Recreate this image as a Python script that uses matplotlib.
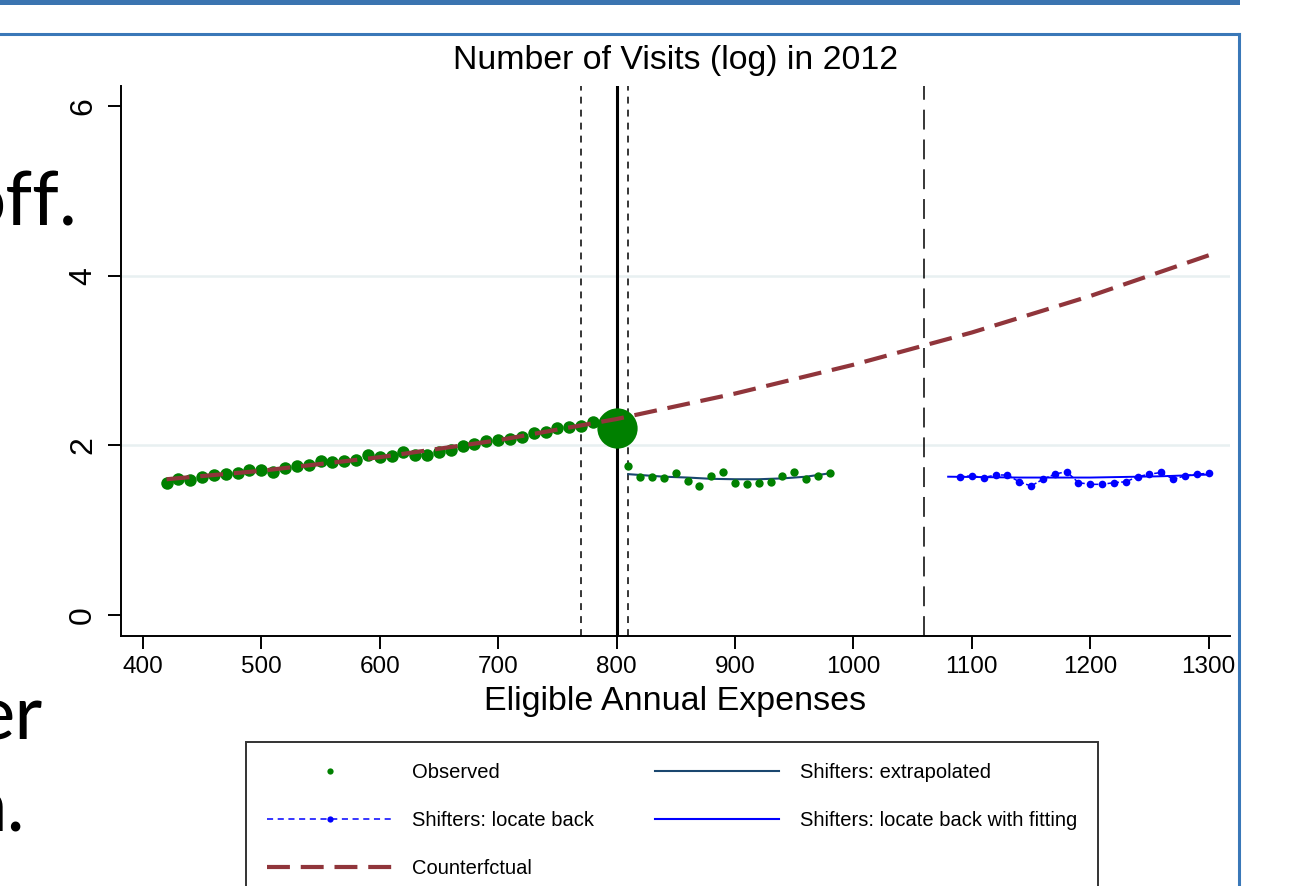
import numpy as np
import matplotlib
matplotlib.use("Agg")
from matplotlib import pyplot as plt
from matplotlib.lines import Line2D
from matplotlib.patches import Rectangle

plt.rcParams['font.family'] = ['Liberation Sans', 'DejaVu Sans']

# observed bins left of the threshold
obs_x = np.arange(420, 800, 10)
obs_y = [1.55, 1.60, 1.59, 1.63, 1.65, 1.66, 1.67, 1.71, 1.71, 1.68,
         1.73, 1.76, 1.77, 1.81, 1.80, 1.82, 1.83, 1.88, 1.86, 1.87,
         1.92, 1.88, 1.89, 1.92, 1.95, 1.99, 2.01, 2.05, 2.06, 2.07,
         2.10, 2.15, 2.16, 2.20, 2.22, 2.23, 2.27, 2.29]

# bunching point at the kink
kink_x = [800]
kink_y = [2.20]

# observed bins right of the threshold
right_x = np.arange(810, 990, 10)
right_y = [1.76, 1.63, 1.63, 1.62, 1.67, 1.58, 1.52, 1.64, 1.69, 1.56,
           1.54, 1.56, 1.57, 1.64, 1.68, 1.60, 1.64, 1.67]

# shifters: extrapolated
extra_x = [810, 820, 840, 860, 880, 900, 920, 940, 960, 980]
extra_y = [1.66, 1.65, 1.63, 1.62, 1.605, 1.60, 1.60, 1.61, 1.63, 1.67]

# shifters: locate back
back_x = np.arange(1090, 1310, 10)
back_y = [1.63, 1.64, 1.62, 1.65, 1.65, 1.57, 1.52, 1.60, 1.66, 1.69,
          1.56, 1.54, 1.54, 1.56, 1.57, 1.63, 1.66, 1.68, 1.60, 1.64,
          1.66, 1.67]

# shifters: locate back with fitting
fit_x = [1080, 1140, 1200, 1260, 1300]
fit_y = [1.63, 1.62, 1.62, 1.635, 1.655]

# counterfactual
cf_x = [420, 500, 600, 700, 800, 900, 1000, 1100, 1200, 1300]
cf_y = [1.60, 1.70, 1.86, 2.06, 2.31, 2.61, 2.95, 3.33, 3.76, 4.24]

GREEN = '#008000'
BLUE = '#0000ff'
NAVY = '#1a476f'
MAROON = '#90353b'
FRAME = '#3a78b8'

W, H = 1299, 886
fig = plt.figure(figsize=(W / 100, H / 100), dpi=100)
ax = fig.add_axes([121 / W, 1 - 636 / H, (1230 - 121) / W, (636 - 86) / H])

ax.set_xlim(381.5, 1318)
ax.set_ylim(-0.248, 6.236)

for yv in [2, 4]:
    ax.axhline(yv, color='#e8f0f1', lw=1.8, zorder=0)

ax.axvline(770, color='black', lw=1.1, ls=(0, (4.5, 4)), zorder=1)
ax.axvline(810, color='black', lw=1.1, ls=(0, (4.5, 4)), zorder=1)
ax.axvline(800, color='black', lw=2.2, zorder=1)
ax.axvline(1060, color='black', lw=1.1, ls=(0, (13, 6.5)), zorder=1)

ax.plot(obs_x, obs_y, 'o', color=GREEN, ms=9, mec='none', zorder=3)
ax.plot(kink_x, kink_y, 'o', color=GREEN, ms=29, mec='none', zorder=3)
ax.plot(right_x, right_y, 'o', color=GREEN, ms=6, mec='none', zorder=3)
ax.plot(extra_x, extra_y, '-', color=NAVY, lw=1.5, zorder=2)
ax.plot(back_x, back_y, 'o', color=BLUE, ms=5.5, mec='none', ls=(0, (3, 1.5)), lw=1.1, zorder=3)
ax.plot(fit_x, fit_y, '-', color=BLUE, lw=1.4, zorder=2)
ax.plot(cf_x, cf_y, color=MAROON, lw=3, ls=(0, (5.5, 2.6)), zorder=4)

ax.spines['top'].set_visible(False)
ax.spines['right'].set_visible(False)
ax.spines['left'].set_linewidth(1.4)
ax.spines['bottom'].set_linewidth(1.4)

ax.set_xticks([400, 500, 600, 700, 800, 900, 1000, 1100, 1200, 1300])
ax.set_yticks([0, 2, 4, 6])
ax.tick_params(axis='x', length=9.4, width=1.4, labelsize=17.5, pad=5)
ax.tick_params(axis='y', length=9.4, width=1.4, labelsize=23, pad=7)
for lab in ax.get_yticklabels():
    lab.set_rotation(90)
    lab.set_va('center')

fig.text(675.5 / W, 1 - 68.5 / H, 'Number of Visits (log) in 2012',
         ha='center', va='baseline', fontsize=24.4)
fig.text(675.5 / W, 1 - 710 / H, 'Eligible Annual Expenses',
         ha='center', va='baseline', fontsize=24.5)

handles = [
    Line2D([], [], ls='none', marker='o', color=GREEN, ms=4.5, mec='none'),
    Line2D([], [], ls=(0, (4, 3)), lw=1.1, marker='o', color=BLUE, ms=4.5, mec='none'),
    Line2D([], [], ls=(0, (5.5, 2.6)), lw=3, color=MAROON),
    Line2D([], [], lw=1.5, color=NAVY),
    Line2D([], [], lw=1.5, color=BLUE),
]
labels = ['Observed', 'Shifters: locate back', 'Counterfctual',
          'Shifters: extrapolated', 'Shifters: locate back with fitting']
leg = fig.legend(handles, labels, ncol=2, loc='upper left',
                 bbox_to_anchor=(246 / W, 1 - 742 / H), fontsize=14.5,
                 handlelength=6.2, handletextpad=1.0, columnspacing=3.0,
                 labelspacing=1.43, borderpad=1.05, borderaxespad=0, numpoints=1,
                 frameon=True, fancybox=False, edgecolor='black')
leg.get_frame().set_linewidth(1.4)

# slide decoration around the pasted chart
fig.add_artist(Rectangle((0, 1 - 5 / H), 1240 / W, 5 / H, transform=fig.transFigure,
                         color='#3b74b0', lw=0))
fig.add_artist(Line2D([0, 1239 / W], [1 - 34 / H, 1 - 34 / H], transform=fig.transFigure,
                      color=FRAME, lw=2.2))
fig.add_artist(Line2D([1239 / W, 1239 / W], [0, 1 - 34 / H], transform=fig.transFigure,
                      color=FRAME, lw=2.2))

for txt, xr, yb in [('off.', 78, 225), ('er', 43, 740), ('n.', 25, 832)]:
    fig.text(xr / W, 1 - yb / H, txt, ha='right', va='baseline',
             fontsize=55, family=['Lato', 'DejaVu Sans'])

fig.savefig('out.png', dpi=100)
